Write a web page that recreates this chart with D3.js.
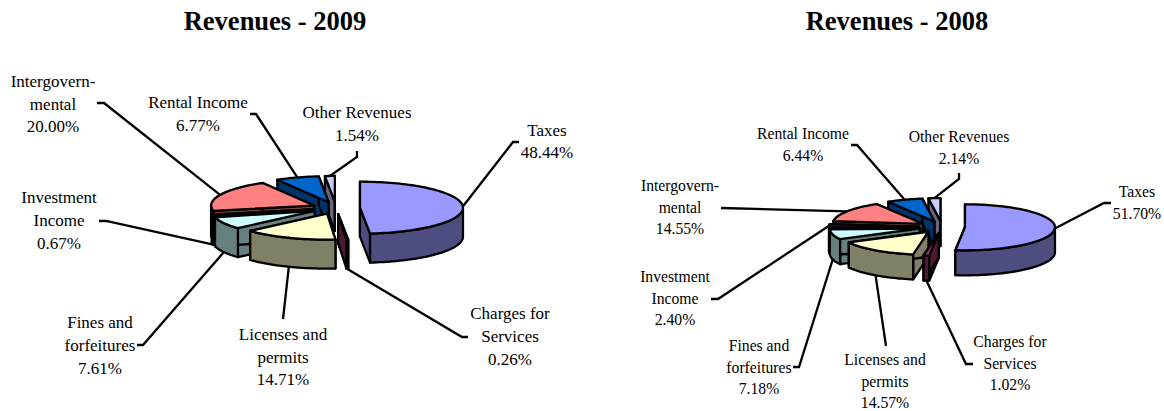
<!DOCTYPE html>
<html>
<head>
<meta charset="utf-8">
<script src="https://cdnjs.cloudflare.com/ajax/libs/d3/7.8.5/d3.min.js"></script>
<style>
  html, body { margin: 0; padding: 0; background: #fff; }
  svg { display: block; }
  text { font-family: "Liberation Serif", serif; fill: #000; }
</style>
</head>
<body>
<script>
  //category names, as the label lines are broken in the picture
  var categories = ["Taxes", "Charges for Services", "Licenses and permits", "Fines and forfeitures",
    "Investment Income", "Intergovernmental", "Rental Income", "Other Revenues"];
  var labelLines = [["Taxes"], ["Charges for", "Services"], ["Licenses and", "permits"], ["Fines and", "forfeitures"],
    ["Investment", "Income"], ["Intergovern-", "mental"], ["Rental Income"], ["Other Revenues"]];

  var values2009 = [48.44, 0.26, 14.71, 7.61, 0.67, 20.00, 6.77, 1.54];
  var values2008 = [51.70, 1.02, 14.57, 7.18, 2.40, 14.55, 6.44, 2.14];

  var topColors = ["#9999FF", "#993366", "#FFFFCC", "#CCFFFF", "#660066", "#FF8080", "#0066CC", "#CCCCFF"];
  var sideColors = ["#4D4D80", "#4D1933", "#808066", "#668080", "#330033", "#804040", "#003366", "#666680"];

  var width = 1164,
    height = 411;

  //layout of each pie: centre, radii, depth, explosion, and where the labels sit
  //label = [centre x of text, y of first line, line step]
  //leader = the bent end of each leader line, the part by the pie is worked out from the slice
  var layout2009 = {
    title: "Revenues - 2009", titleX: 275, values: values2009,
    cx: 336, cy: 208, rx: 103, ry: 26, depth: 29, explode: 24, font: 17,
    labels: [[547, 136, 22], [510, 319, 23], [283, 340, 22.7], [100, 327.5, 23], [59, 203, 23], [53, 87, 22.5], [198, 108, 23], [357, 118, 23]],
    leaders: [[[513, 142], [519, 142]], [[462, 337], [468, 337]], [[283, 319]], [[143, 345], [137, 345]],
      [[106, 221], [99, 221]], [[104, 103], [97, 103]], [[256, 114], [250, 114]], [[357, 157], [357, 151]]]
  };
  var layout2008 = {
    title: "Revenues - 2008", titleX: 897, values: values2008,
    cx: 942, cy: 227, rx: 90, ry: 23, depth: 25, explode: 23, font: 15.7,
    labels: [[1137, 197, 22], [1010, 347, 21.5], [885, 365, 21.5], [759, 351, 21.5], [675, 282, 21.5], [680, 191, 21.5], [803, 139, 21.5], [959, 142, 22]],
    leaders: [[[1104, 203], [1111, 203]], [[966, 364], [973, 364]], [[886, 346]], [[799, 367], [793, 367]],
      [[718, 299], [711, 299]], [[721, 208]], [[857, 145], [851, 145]], [[959, 179], [959, 173]]]
  };

  var svg = d3.select("body").append("svg")
    .attr("width", width)
    .attr("height", height);

  var line = d3.line();

  function drawPie(cfg) {
    //angles come from d3.pie, clockwise from 12 o'clock
    var pie = d3.pie().sort(null);
    var slices = pie(cfg.values).map(function(d, i) {
      var mid = (d.startAngle + d.endAngle) / 2;
      //the explosion is along the middle angle, squashed like the ellipse
      d.ox = cfg.cx + cfg.explode * Math.sin(mid);
      d.oy = cfg.cy - cfg.explode * Math.cos(mid) * cfg.ry / cfg.rx;
      d.mid = mid;
      d.index = i;
      return d;
    });

    function rim(d, a) {
      return [d.ox + cfg.rx * Math.sin(a), d.oy - cfg.ry * Math.cos(a)];
    }
    function arcPoints(d, a0, a1) {
      var n = Math.max(2, Math.ceil((a1 - a0) * 30));
      return d3.range(n + 1).map(function(k) { return rim(d, a0 + (a1 - a0) * k / n); });
    }
    function down(p) { return [p[0], p[1] + cfg.depth]; }

    svg.append("text")
      .attr("x", cfg.titleX).attr("y", 30)
      .attr("text-anchor", "middle")
      .style("font-size", "26.5px").style("font-weight", "bold")
      .text(cfg.title);

    //leader lines under the pie
    var g = svg.append("g");
    slices.forEach(function(d, i) {
      var start = rim(d, d.mid);
      if (Math.cos(d.mid) < -0.1) start = down(start);
      g.append("path")
        .attr("d", line([start].concat(cfg.leaders[i])))
        .attr("fill", "none").attr("stroke", "#000").attr("stroke-width", 2.3);
    });

    //back slices first
    var order = slices.slice().sort(function(a, b) { return a.oy - b.oy; });
    order.forEach(function(d) {
      var i = d.index;
      var c = [d.ox, d.oy];
      var faces = [];
      [d.startAngle, d.endAngle].forEach(function(a) {
        var p = rim(d, a);
        faces.push([c, p, down(p), down(c)]);
      });
      //outer wall only where it faces us
      var a0 = Math.max(d.startAngle, Math.PI / 2),
        a1 = Math.min(d.endAngle, Math.PI * 1.5);
      if (a1 > a0) {
        var pts = arcPoints(d, a0, a1);
        faces.push(pts.concat(pts.slice().reverse().map(down)));
      }
      faces.forEach(function(f) {
        g.append("path")
          .attr("d", line(f) + "Z")
          .attr("fill", sideColors[i])
          .attr("stroke", "#000").attr("stroke-width", 2.3).attr("stroke-linejoin", "round");
      });
      g.append("path")
        .attr("d", line([c].concat(arcPoints(d, d.startAngle, d.endAngle))) + "Z")
        .attr("fill", topColors[i])
        .attr("stroke", "#000").attr("stroke-width", 2.3).attr("stroke-linejoin", "round");
    });

    //labels
    slices.forEach(function(d, i) {
      var pos = cfg.labels[i];
      var lines = labelLines[i].concat([cfg.values[i].toFixed(2) + "%"]);
      var t = svg.append("text")
        .attr("text-anchor", "middle")
        .style("font-size", cfg.font + "px");
      lines.forEach(function(s, k) {
        t.append("tspan")
          .attr("x", pos[0])
          .attr("y", pos[1] + k * pos[2])
          .text(s);
      });
    });
  }

  drawPie(layout2009);
  drawPie(layout2008);
</script>
</body>
</html>
